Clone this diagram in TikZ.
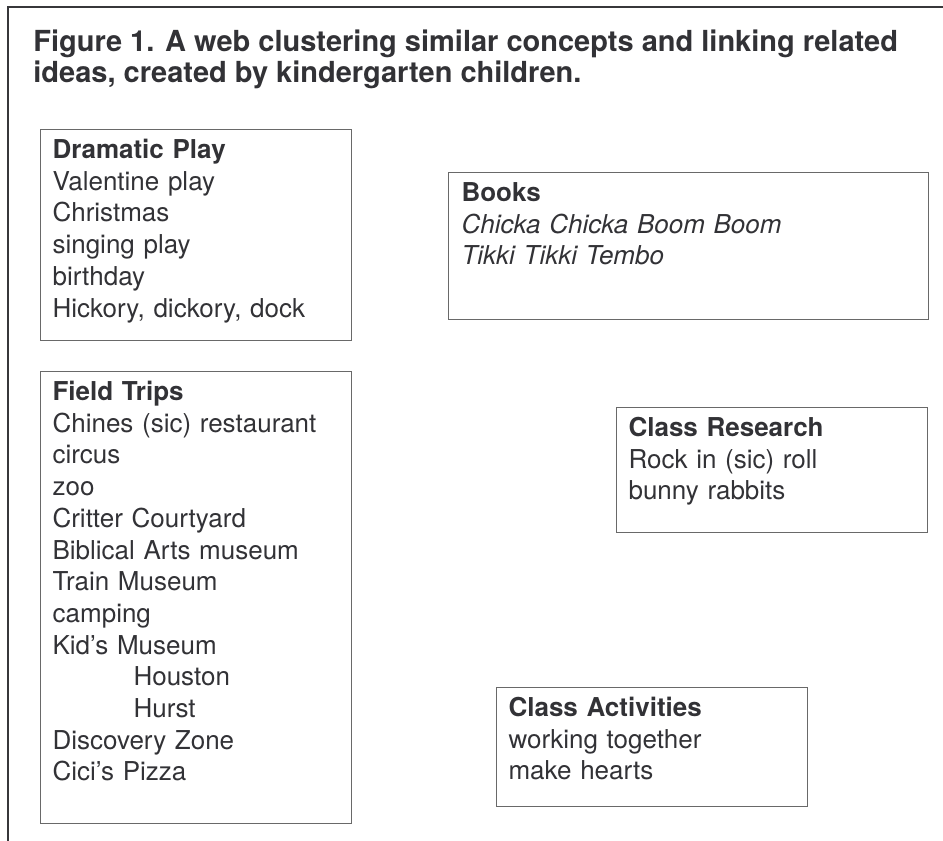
\documentclass[tikz,border=0pt]{standalone}
\usepackage{fontspec}
\setmainfont{TeX Gyre Heros}
\usepackage{tikz}
\usetikzlibrary{positioning}

\definecolor{inkgray}{RGB}{50,50,54}
\definecolor{boxgray}{RGB}{105,105,105}
\definecolor{framegray}{RGB}{55,55,58}

\begin{document}
\begin{tikzpicture}[x=1pt,y=-1pt,
                thick,text=inkgray,
                title node/.style={anchor=base west,align=left,inner sep=0pt,
                  font=\fontsize{29}{31}\selectfont\bfseries},
                main node/.style={draw=boxgray,line width=1.1pt,anchor=north west,
                  align=left,inner ysep=0pt,inner xsep=12pt,text height=29pt,
                  font=\fontsize{26}{31.7}\selectfont}]
  \useasboundingbox (0,0) rectangle (943,841);

  % outer frame, open at right and bottom
  \coordinate (fb) at (8,841);
  \coordinate (fc) at (8,6.5);
  \coordinate (fr) at (943,6.5);
  \draw[framegray,line width=2pt] (fb) -- (fc) -- (fr);

  % base of a two-line node is its last line
  \node[title node] (title) at (33,82)
    {Figure 1. A web clustering similar concepts and linking related\\
     ideas, created by kindergarten children.};

  \node[main node,text width=287pt,text depth=182pt] (drama) at (40,129)
    {\textbf{Dramatic Play}\\Valentine play\\Christmas\\singing play\\
     birthday\\Hickory, dickory, dock};
  \node[main node,text width=454pt,text depth=118pt,inner xsep=13pt] (books) at (448,172)
    {\textbf{Books}\\\textit{Chicka Chicka Boom Boom}\\\textit{Tikki Tikki Tembo}};
  \node[main node,text width=287pt,text depth=423pt] (trips) at (40,371)
    {\textbf{Field Trips}\\Chines (sic) restaurant\\circus\\zoo\\Critter Courtyard\\
     Biblical Arts museum\\Train Museum\\camping\\Kid’s Museum\\
     \hspace*{81pt}Houston\\\hspace*{81pt}Hurst\\Discovery Zone\\Cici’s Pizza};
  \node[main node,text width=287pt,text depth=96pt] (research) at (616,407)
    {\textbf{Class Research}\\Rock in (sic) roll\\bunny rabbits};
  \node[main node,text width=287pt,text depth=90pt] (activities) at (496,687)
    {\textbf{Class Activities}\\working together\\make hearts};
\end{tikzpicture}
\end{document}
